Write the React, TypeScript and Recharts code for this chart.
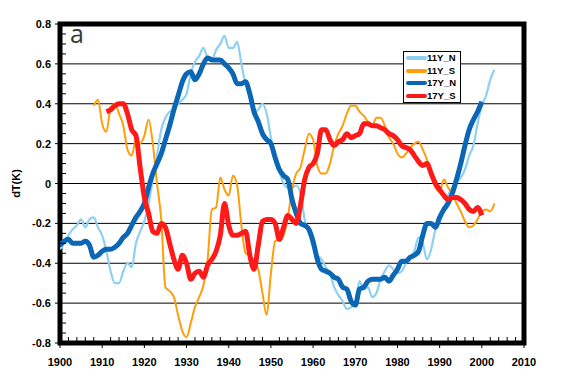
import React from 'react';
import {
  LineChart,
  Line,
  XAxis,
  YAxis,
  ReferenceLine,
  ReferenceArea,
  Legend,
} from 'recharts';

// yearly values, 11-year and 17-year smoothed, north / south
const n11Start = 1900;
const n11 = [
  -0.33, -0.30, -0.26, -0.23, -0.21, -0.18, -0.22, -0.18, -0.17, -0.22,
  -0.26, -0.34, -0.44, -0.50, -0.50, -0.44, -0.40, -0.42, -0.30, -0.24,
  -0.19, -0.10, 0.02, 0.14, 0.27, 0.33, 0.36, 0.37, 0.40, 0.42,
  0.45, 0.55, 0.61, 0.64, 0.68, 0.63, 0.62, 0.67, 0.70, 0.74,
  0.68, 0.68, 0.71, 0.60, 0.50, 0.44, 0.36, 0.37, 0.40, 0.35,
  0.23, 0.13, 0.06, 0.00, -0.02, -0.02, -0.01, -0.05, -0.18, -0.25,
  -0.32, -0.36, -0.38, -0.42, -0.45, -0.52, -0.56, -0.59, -0.63, -0.62,
  -0.60, -0.49, -0.53, -0.52, -0.57, -0.55, -0.48, -0.44, -0.41, -0.43,
  -0.45, -0.44, -0.40, -0.37, -0.34, -0.27, -0.30, -0.38, -0.33, -0.23,
  -0.19, -0.13, -0.06, -0.02, 0.01, 0.03, 0.07, 0.14, 0.19, 0.30,
  0.39, 0.44, 0.52, 0.57,
];

const s11Start = 1908;
const s11 = [
  0.39, 0.42,
  0.30, 0.26, 0.38, 0.40, 0.35, 0.29, 0.17, 0.14, 0.22, 0.20,
  0.24, 0.32, 0.20, 0.00, -0.18, -0.52, -0.54, -0.57, -0.66, -0.74,
  -0.77, -0.70, -0.62, -0.57, -0.51, -0.38, -0.13, -0.12, 0.03, -0.03,
  -0.06, 0.04, -0.01, -0.21, -0.35, -0.36, -0.39, -0.43, -0.55, -0.66,
  -0.45, -0.29, -0.28, -0.26, -0.17, -0.03, 0.05, 0.08, 0.17, 0.25,
  0.22, 0.09, 0.05, 0.05, 0.10, 0.19, 0.25, 0.29, 0.35, 0.39,
  0.39, 0.36, 0.34, 0.31, 0.29, 0.33, 0.33, 0.29, 0.23, 0.20,
  0.15, 0.13, 0.15, 0.18, 0.20, 0.21, 0.17, 0.12, 0.04, -0.02,
  -0.04, 0.02, -0.02, -0.05, -0.10, -0.14, -0.19, -0.22, -0.21, -0.18,
  -0.14, -0.13, -0.14, -0.10,
];

const n17Start = 1900;
const n17 = [
  -0.31, -0.29, -0.28, -0.30, -0.30, -0.30, -0.29, -0.31, -0.37, -0.36,
  -0.34, -0.33, -0.33, -0.32, -0.30, -0.27, -0.25, -0.21, -0.17, -0.14,
  -0.10, -0.02, 0.05, 0.10, 0.15, 0.22, 0.29, 0.37, 0.44, 0.51,
  0.55, 0.56, 0.52, 0.55, 0.60, 0.63, 0.62, 0.62, 0.62, 0.60,
  0.58, 0.55, 0.50, 0.50, 0.51, 0.45, 0.36, 0.31, 0.25, 0.22,
  0.20, 0.13, 0.07, 0.04, 0.02, -0.08, -0.15, -0.20, -0.21, -0.23,
  -0.29, -0.38, -0.43, -0.44, -0.45, -0.47, -0.48, -0.52, -0.53, -0.59,
  -0.61, -0.53, -0.52, -0.49, -0.48, -0.48, -0.48, -0.47, -0.49, -0.46,
  -0.43, -0.39, -0.39, -0.37, -0.36, -0.34, -0.26, -0.20, -0.20, -0.22,
  -0.17, -0.13, -0.10, -0.05, 0.02, 0.10, 0.19, 0.27, 0.32, 0.36,
  0.41,
];

const s17Start = 1911;
const s17 = [
  0.36, 0.37, 0.39, 0.40, 0.40, 0.35, 0.27, 0.24, 0.08,
  -0.07, -0.15, -0.24, -0.25, -0.20, -0.22, -0.30, -0.38, -0.43, -0.36,
  -0.40, -0.48, -0.45, -0.44, -0.47, -0.41, -0.38, -0.34, -0.26, -0.10,
  -0.21, -0.26, -0.26, -0.25, -0.24, -0.36, -0.43, -0.31, -0.19, -0.18,
  -0.18, -0.20, -0.28, -0.22, -0.16, -0.18, -0.20, -0.11, 0.02, 0.08,
  0.10, 0.15, 0.27, 0.27, 0.22, 0.19, 0.21, 0.22, 0.25, 0.23,
  0.24, 0.25, 0.30, 0.30, 0.29, 0.29, 0.28, 0.27, 0.25, 0.24,
  0.22, 0.19, 0.18, 0.17, 0.14, 0.11, 0.09, 0.10, 0.05, 0.00,
  -0.03, -0.06, -0.08, -0.07, -0.07, -0.08, -0.10, -0.13, -0.14, -0.12,
  -0.16,
];

const xTicks = [1900, 1910, 1920, 1930, 1940, 1950, 1960, 1970, 1980, 1990, 2000, 2010];
const yTicks = [-0.8, -0.6, -0.4, -0.2, 0, 0.2, 0.4, 0.6, 0.8];
const gridLines = [-0.6, -0.4, -0.2, 0, 0.2, 0.4, 0.6];

const series = [
  { key: 'n11', name: '11Y_N', color: '#8fd0f2', width: 2.2 },
  { key: 's11', name: '11Y_S', color: '#ff9e0a', width: 2 },
  { key: 'n17', name: '17Y_N', color: '#0b66b5', width: 5 },
  { key: 's17', name: '17Y_S', color: '#ff1a1a', width: 5 },
];

const pick = (arr: number[], start: number, year: number) => {
  const i = year - start;
  return i >= 0 && i < arr.length ? arr[i] : undefined;
};

const chartData = Array.from({ length: 2003 - 1900 + 1 }, (_, i) => {
  const year = 1900 + i;
  return {
    year,
    n11: pick(n11, n11Start, year),
    s11: pick(s11, s11Start, year),
    n17: pick(n17, n17Start, year),
    s17: pick(s17, s17Start, year),
  };
});

// minor ticks: every 2 years on x, every 0.05 on y
const xAllTicks = Array.from({ length: 56 }, (_, i) => 1900 + i * 2);
const yAllTicks = Array.from({ length: 33 }, (_, i) => Math.round((-0.8 + i * 0.05) * 100) / 100);

const FONT = '"Liberation Sans", Arial, sans-serif';

const XTick = (props: any) => {
  const { x, y, payload } = props;
  const v = payload.value;
  if (xTicks.includes(v)) {
    return (
      <g>
        <line x1={x} x2={x} y1={y} y2={y + 5} stroke="#000" strokeWidth={1} />
        <text x={x} y={y + 23} textAnchor="middle" fontSize={11} fontWeight="bold" fontFamily={FONT} fill="#000">
          {v}
        </text>
      </g>
    );
  }
  return <line x1={x} x2={x} y1={y} y2={y - 6} stroke="#000" strokeWidth={1} />;
};

const YTick = (props: any) => {
  const { x, y, payload } = props;
  const v = payload.value;
  if (yTicks.some(t => Math.abs(t - v) < 1e-6)) {
    return (
      <g>
        <line x1={x - 5} x2={x} y1={y} y2={y} stroke="#000" strokeWidth={1} />
        <text x={x - 9} y={y + 4} textAnchor="end" fontSize={11} fontWeight="bold" fontFamily={FONT} fill="#000">
          {v === 0 ? '0' : v.toFixed(1)}
        </text>
      </g>
    );
  }
  return <line x1={x} x2={x + 6} y1={y} y2={y} stroke="#000" strokeWidth={1} />;
};

const LegendBox = () => (
  <div
    style={{
      width: 58,
      height: 52,
      boxSizing: 'border-box',
      border: '1px solid #000',
      background: '#fff',
      fontFamily: FONT,
    }}
  >
    {series.map(s => (
      <div key={s.key} style={{ height: 12.5, display: 'flex', alignItems: 'center' }}>
        <svg width={23} height={6} style={{ display: 'block' }}>
          <line x1={4} x2={21} y1={3} y2={3} stroke={s.color} strokeWidth={4} strokeLinecap="round" />
        </svg>
        <span style={{ fontSize: 9.5, fontWeight: 'bold', lineHeight: '12px', color: '#000' }}>{s.name}</span>
      </div>
    ))}
  </div>
);

const App: React.FC = () => {
  return (
    <div style={{ position: 'absolute', left: 0, top: 0, width: 562, height: 380, background: '#fff' }}>
      <LineChart
        width={562}
        height={380}
        data={chartData}
        margin={{ top: 24, right: 38, bottom: 7, left: 10 }}
      >
        {gridLines.map(v => (
          <ReferenceLine key={v} y={v} stroke="#000" strokeWidth={1} ifOverflow="visible" />
        ))}
        <XAxis
          dataKey="year"
          type="number"
          domain={[1900, 2010]}
          ticks={xAllTicks}
          interval={0}
          tick={<XTick />}
          tickLine={false}
          axisLine={false}
          tickSize={0}
          tickMargin={0}
          height={30}
          allowDataOverflow
        />
        <YAxis
          type="number"
          domain={[-0.8, 0.8]}
          ticks={yAllTicks}
          interval={0}
          tick={<YTick />}
          tickLine={false}
          axisLine={false}
          tickSize={0}
          tickMargin={0}
          width={50}
          allowDataOverflow
          label={{
            value: 'dT(K)',
            angle: -90,
            position: 'insideLeft',
            offset: 6,
            style: { textAnchor: 'middle', fontSize: 11, fontWeight: 'bold', fontFamily: FONT, fill: '#000' },
          }}
        />
        {series.map(s => (
          <Line
            key={s.key}
            type="monotone"
            dataKey={s.key}
            name={s.name}
            stroke={s.color}
            strokeWidth={s.width}
            dot={false}
            activeDot={false}
            connectNulls={false}
            isAnimationActive={false}
          />
        ))}
        <ReferenceArea
          x1={1900}
          x2={2010}
          y1={-0.8}
          y2={0.8}
          fill="none"
          fillOpacity={0}
          stroke="#000"
          strokeWidth={5}
          ifOverflow="visible"
        />
        <Legend
          layout="horizontal"
          verticalAlign="middle"
          align="center"
          content={<LegendBox />}
          wrapperStyle={{ left: 403, top: 51, width: 58, height: 52 }}
        />
      </LineChart>
      <div
        style={{
          position: 'absolute',
          left: 70,
          top: 18,
          fontFamily: '"Open Sans", sans-serif',
          fontSize: 25,
          color: '#3a3a3a',
          lineHeight: '30px',
        }}
      >
        a
      </div>
    </div>
  );
};

export default App;
